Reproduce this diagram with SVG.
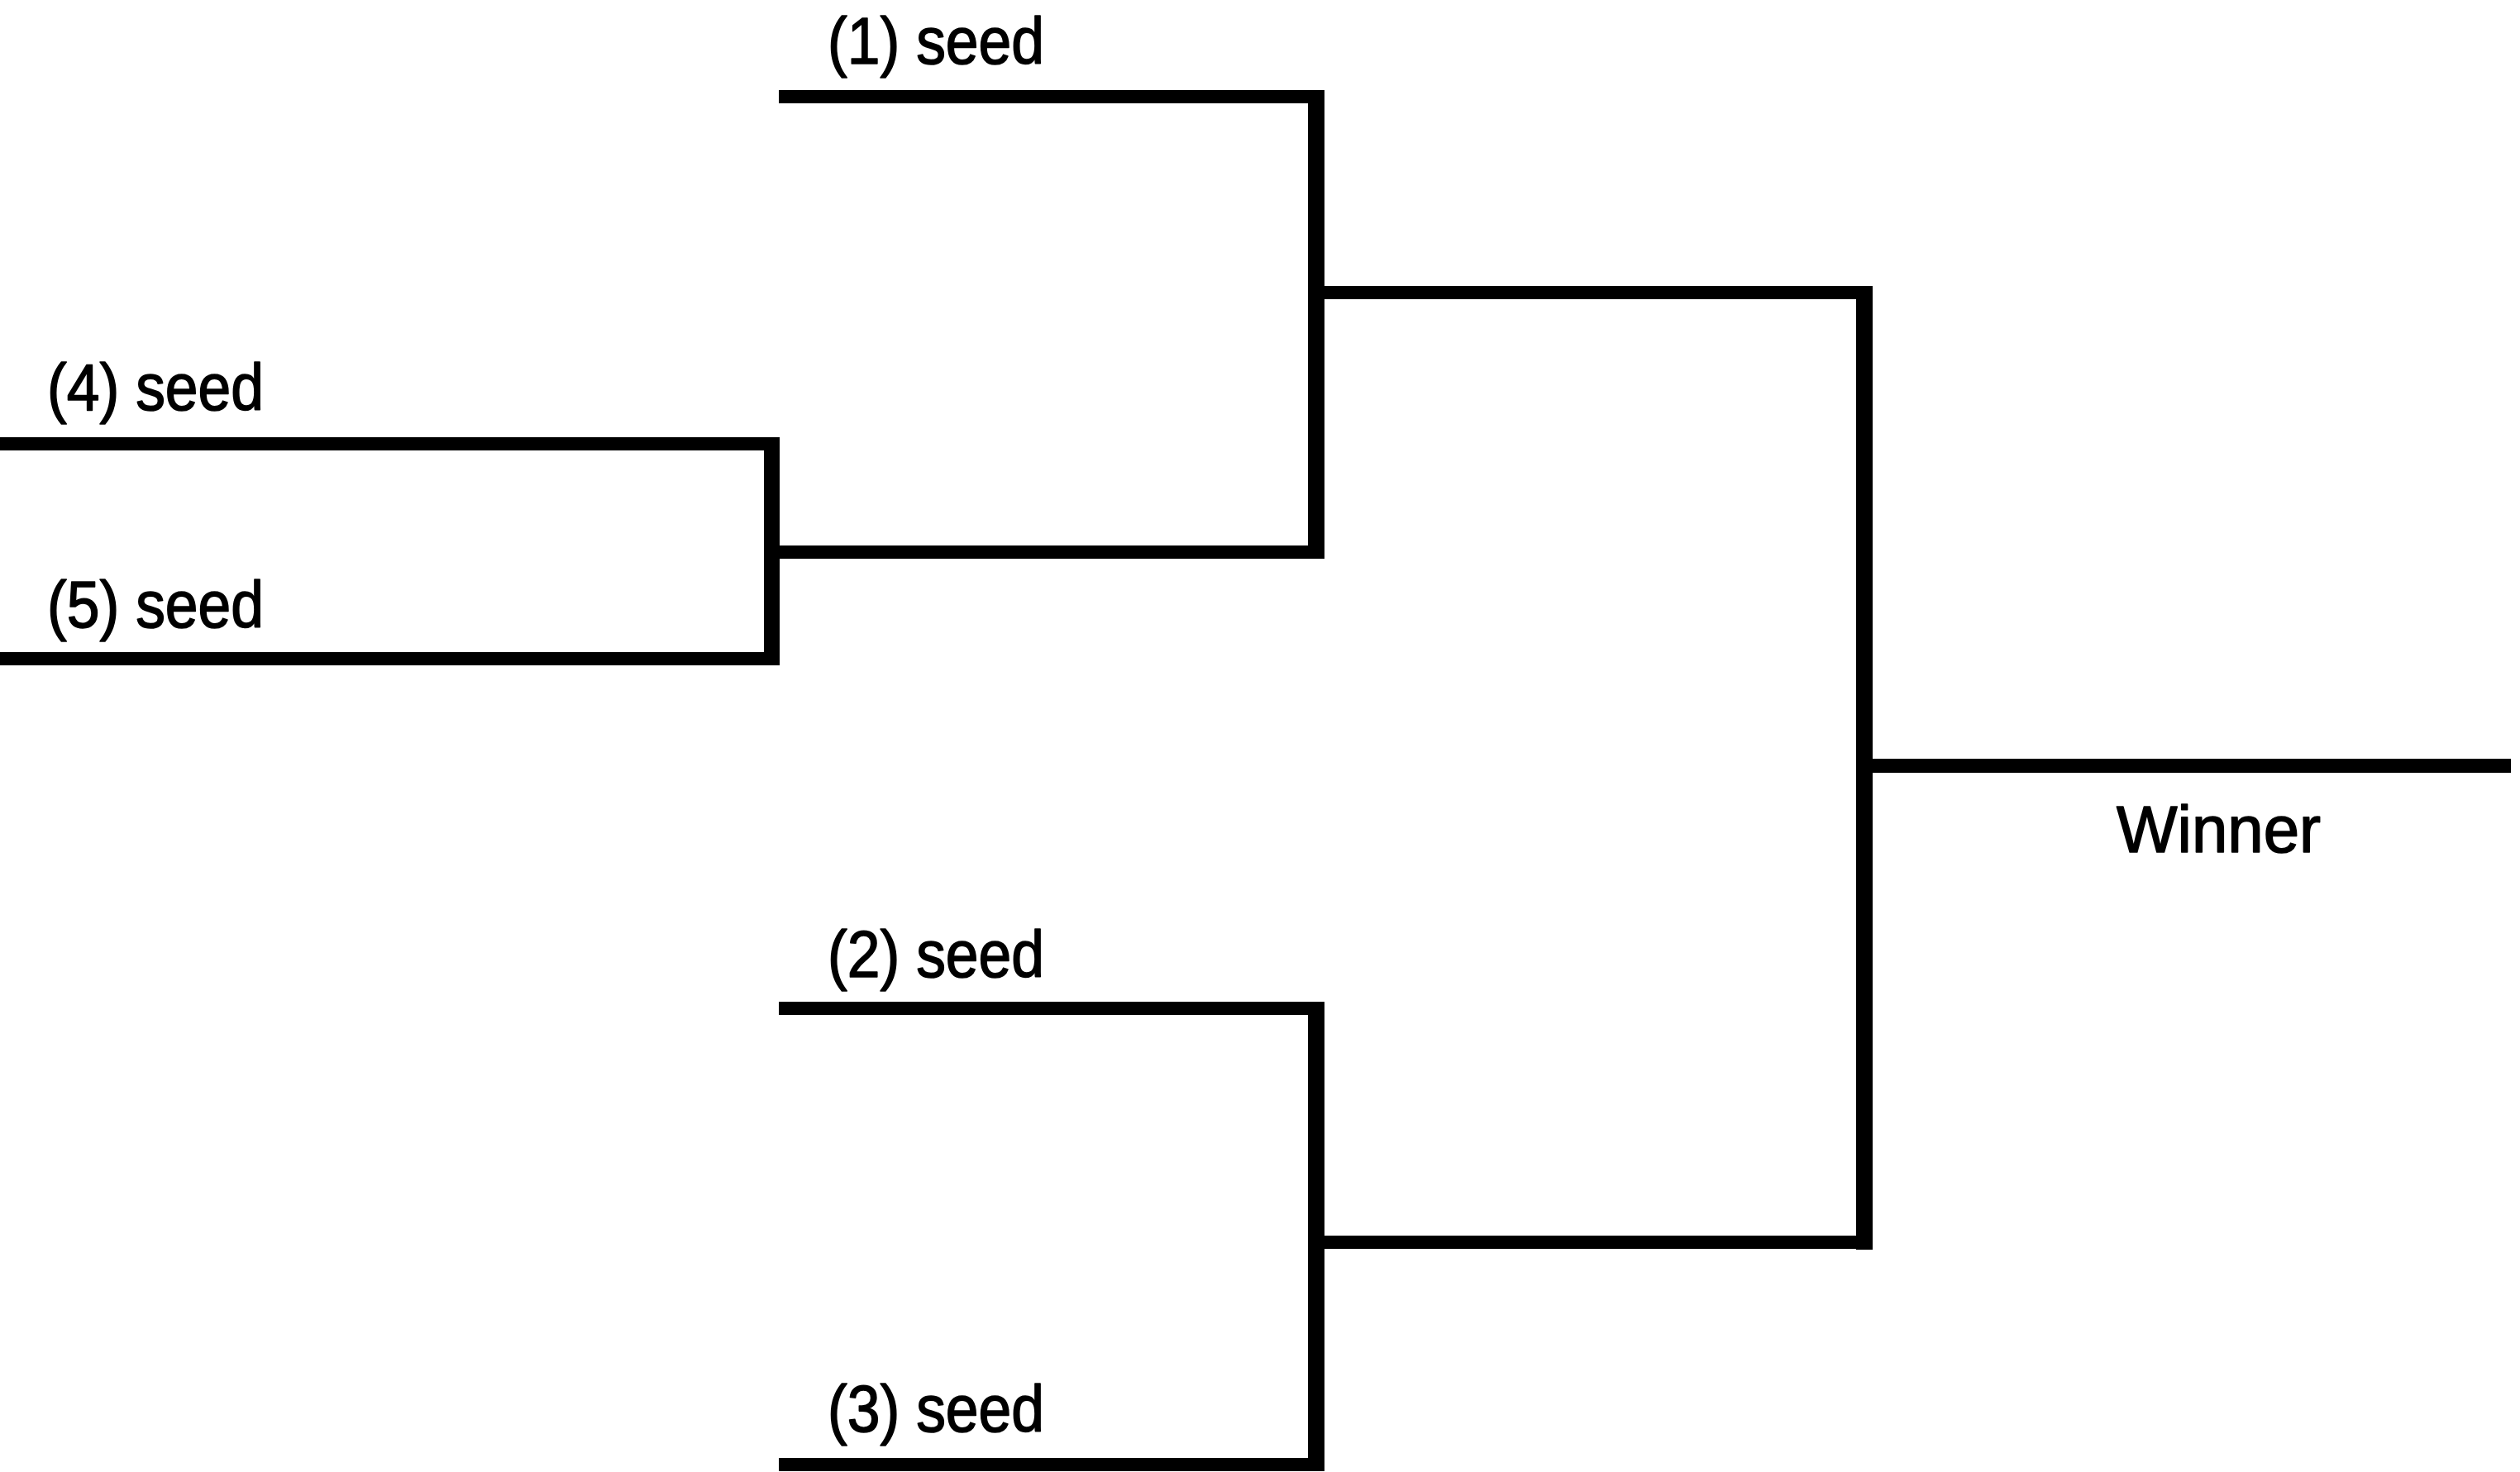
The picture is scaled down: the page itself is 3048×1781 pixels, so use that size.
<svg xmlns="http://www.w3.org/2000/svg" width="3048" height="1781" viewBox="0 0 3048 1781">
<style>
  .bg { fill: #ffffff; }
  .ln { fill: #000000; }
  .lbl { font-family: "Liberation Sans", Arial, sans-serif; font-size: 80px; fill: #000000; stroke: #000000; stroke-width: 1.6px; stroke-linejoin: round; }
</style>
<rect class="bg" x="0" y="0" width="3048" height="1781"/>
<g id="connectors">
  <rect class="ln" x="942" y="109" width="660" height="16"/>
  <rect class="ln" x="1582" y="109" width="20" height="567"/>
  <rect class="ln" x="0" y="529" width="943" height="16"/>
  <rect class="ln" x="0" y="789" width="943" height="16"/>
  <rect class="ln" x="924" y="529" width="19" height="276"/>
  <rect class="ln" x="943" y="660" width="639" height="16"/>
  <rect class="ln" x="1602" y="346" width="663" height="16"/>
  <rect class="ln" x="2245" y="346" width="20" height="1166"/>
  <rect class="ln" x="2265" y="918" width="772" height="17"/>
  <rect class="ln" x="942" y="1212" width="660" height="16"/>
  <rect class="ln" x="1582" y="1212" width="20" height="568"/>
  <rect class="ln" x="1602" y="1495" width="663" height="16"/>
  <rect class="ln" x="942" y="1764" width="660" height="16"/>
</g>
<g id="seed1"><text class="lbl" x="1001" y="77" textLength="262" lengthAdjust="spacingAndGlyphs">(1) seed</text></g>
<g id="seed4"><text class="lbl" x="57" y="496" textLength="262" lengthAdjust="spacingAndGlyphs">(4) seed</text></g>
<g id="seed5"><text class="lbl" x="57" y="759" textLength="262" lengthAdjust="spacingAndGlyphs">(5) seed</text></g>
<g id="seed2"><text class="lbl" x="1001" y="1182" textLength="262" lengthAdjust="spacingAndGlyphs">(2) seed</text></g>
<g id="seed3"><text class="lbl" x="1001" y="1732" textLength="262" lengthAdjust="spacingAndGlyphs">(3) seed</text></g>
<g id="winner"><text class="lbl" x="2560" y="1031" textLength="247" lengthAdjust="spacingAndGlyphs">Winner</text></g>
</svg>
